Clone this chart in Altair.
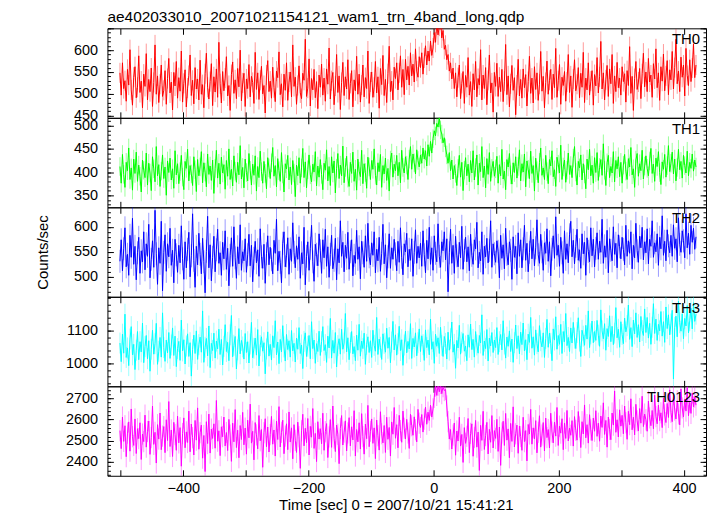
import altair as alt
import pandas as pd

FONT = "Liberation Sans"
TITLE = "ae402033010_20071021154121_wam1_trn_4band_long.qdp"
XTITLE = "Time [sec] 0 = 2007/10/21 15:41:21"
YTITLE = "Counts/sec"

T_START = -501
T_STEP = 2

th0 = [
    548, 497, 571, 512, 530, 483, 556, 520, 601, 509, 474, 538, 562, 491, 515, 587, 503, 529, 468, 545,
    517, 592, 486, 533, 505, 559, 471, 526, 612, 499, 541, 480, 522, 566, 494, 508, 553, 476, 535, 581,
    502, 527, 463, 549, 518, 574, 490, 537, 506, 598, 481, 524, 555, 470, 513, 542, 589, 496, 531, 477,
    560, 511, 534, 486, 577, 499, 521, 468, 546, 593, 515, 488, 528, 569, 473, 539, 504, 557, 492, 618,
    523, 479, 551, 507, 536, 585, 495, 519, 462, 544, 573, 501, 532, 489, 558, 516, 600, 484, 525, 547,
    471, 534, 512, 567, 493, 540, 526, 478, 595, 510, 548, 487, 531, 563, 500, 519, 456, 543, 576, 505,
    529, 490, 561, 514, 482, 552, 537, 596, 498, 523, 470, 545, 508, 571, 485, 527, 550, 493, 612, 517,
    538, 476, 519, 564, 502, 489, 547, 531, 625, 494, 513, 580, 472, 535, 509, 556, 491, 528, 466, 543,
    515, 568, 497, 536, 483, 557, 522, 605, 488, 530, 549, 475, 518, 590, 503, 541, 464, 526, 572, 496,
    539, 511, 578, 487, 524, 553, 470, 532, 507, 586, 499, 545, 481, 520, 566, 493, 537, 512, 598, 478,
    527, 550, 492, 515, 574, 502, 539, 467, 558, 521, 588, 496, 533, 480, 546, 609, 505, 529, 486, 561,
    535, 571, 509, 548, 587, 515, 556, 498, 579, 532, 563, 520, 594, 541, 568, 527, 603, 552, 538, 585,
    560, 594, 545, 582, 610, 566, 598, 575, 621, 588, 605, 640, 618, 662, 635, 655, 670, 628, 645, 602,
    611, 578, 590, 552, 571, 534, 559, 512, 548, 493, 537, 566, 489, 524, 551, 478, 542, 515, 583, 497,
    528, 471, 546, 509, 574, 493, 535, 520, 601, 486, 543, 512, 560, 475, 531, 589, 502, 525, 458, 549,
    517, 570, 494, 538, 505, 556, 482, 529, 613, 498, 541, 470, 523, 565, 508, 537, 452, 520, 579, 495,
    533, 490, 557, 514, 544, 472, 528, 586, 501, 536, 479, 562, 510, 548, 485, 522, 597, 506, 540, 468,
    526, 575, 499, 531, 556, 487, 545, 514, 604, 492, 530, 567, 476, 538, 519, 551, 483, 527, 590, 503,
    541, 469, 534, 578, 507, 522, 560, 491, 547, 515, 595, 480, 536, 509, 571, 497, 529, 553, 474, 544,
    518, 583, 502, 539, 620, 511, 548, 486, 532, 565, 494, 557, 523, 590, 478, 541, 505, 572, 514, 536,
    497, 562, 528, 546, 481, 553, 519, 608, 501, 540, 462, 535, 574, 510, 527, 558, 489, 546, 593, 516,
    550, 505, 581, 527, 543, 492, 569, 534, 603, 514, 548, 485, 562, 529, 591, 507, 541, 576, 498, 555,
    532, 597, 511, 560, 625, 523, 552, 505, 584, 538, 566, 495, 604, 542, 519, 578, 528, 559, 614, 537,
    566,
]

th1 = [
    412, 376, 438, 395, 367, 421, 403, 452, 384, 409, 361, 428, 397, 443, 380, 415, 391, 357, 426, 404,
    388, 441, 372, 419, 398, 360, 433, 407, 379, 455, 392, 416, 369, 402, 437, 386, 411, 350, 424, 399,
    430, 383, 407, 365, 446, 394, 418, 375, 401, 436, 389, 362, 423, 408, 449, 381, 414, 396, 371, 433,
    405, 358, 427, 392, 411, 444, 377, 420, 400, 368, 439, 395, 413, 382, 426, 354, 408, 447, 387, 419,
    374, 432, 398, 416, 363, 425, 391, 450, 384, 406, 370, 435, 402, 378, 421, 394, 457, 385, 410, 366,
    428, 399, 381, 440, 404, 372, 417, 393, 435, 359, 412, 388, 445, 401, 376, 423, 397, 364, 431, 409,
    386, 420, 453, 391, 414, 368, 429, 403, 380, 442, 396, 357, 418, 407, 436, 383, 411, 373, 425, 398,
    347, 415, 392, 431, 376, 409, 451, 388, 422, 366, 405, 437, 394, 379, 417, 400, 444, 370, 413, 389,
    427, 395, 362, 419, 404, 448, 381, 412, 371, 433, 398, 424, 355, 408, 440, 386, 415, 392, 456, 377,
    410, 434, 387, 369, 421, 397, 443, 380, 406, 361, 428, 402, 390, 447, 375, 418, 399, 365, 432, 411,
    384, 425, 406, 450, 393, 372, 420, 401, 438, 367, 414, 396, 430, 382, 408, 359, 426, 441, 389, 417,
    403, 436, 392, 421, 377, 447, 410, 398, 433, 415, 384, 428, 455, 406, 439, 420, 396, 448, 425, 411,
    437, 419, 452, 428, 446, 413, 459, 434, 466, 441, 472, 489, 478, 505, 497, 517, 491, 482, 463, 474,
    452, 437, 419, 442, 403, 426, 385, 414, 397, 371, 408, 436, 389, 421, 360, 404, 431, 392, 417, 379,
    425, 398, 446, 383, 410, 437, 372, 419, 401, 455, 388, 413, 366, 429, 395, 442, 380, 408, 423, 391,
    407, 434, 376, 416, 392, 449, 385, 402, 362, 427, 411, 440, 394, 374, 420, 399, 433, 387, 412, 448,
    381, 418, 400, 439, 368, 424, 406, 386, 445, 397, 414, 359, 430, 403, 377, 421, 452, 393, 409, 384,
    436, 401, 375, 427, 413, 446, 390, 405, 369, 432, 417, 398, 458, 384, 411, 426, 378, 404, 441, 395,
    414, 388, 430, 455, 400, 372, 423, 409, 437, 383, 418, 396, 364, 428, 405, 449, 392, 415, 376, 431,
    399, 442, 382, 410, 427, 393, 461, 404, 371, 420, 436, 388, 412, 398, 444, 379, 425, 407, 433, 390,
    421, 376, 415, 438, 402, 384, 429, 411, 453, 394, 407, 367, 426, 440, 391, 418, 403, 447, 385, 413,
    435, 408, 392, 424, 451, 397, 417, 380, 430, 412, 444, 399, 373, 422, 406, 438, 389, 414, 457, 401,
    419, 443, 396, 428, 381, 410, 449, 405, 423, 387, 436, 414, 398, 445, 392, 421, 408, 439, 402, 426,
    411,
]

th2 = [
    531, 574, 512, 556, 598, 520, 545, 503, 583, 539, 617, 525, 561, 494, 548, 579, 507, 552, 530, 590,
    514, 566, 541, 605, 498, 535, 572, 519, 633, 546, 485, 558, 527, 611, 472, 549, 584, 511, 566, 540,
    597, 523, 553, 488, 575, 544, 509, 563, 528, 602, 536, 495, 570, 518, 555, 589, 500, 542, 626, 533,
    479, 561, 524, 587, 545, 506, 577, 530, 468, 551, 621, 518, 564, 492, 539, 581, 510, 554, 595, 527,
    548, 503, 569, 536, 592, 515, 557, 482, 543, 578, 521, 600, 538, 497, 560, 526, 604, 513, 550, 532,
    576, 509, 544, 585, 522, 563, 490, 537, 571, 528, 554, 501, 596, 540, 517, 565, 487, 546, 582, 524,
    559, 534, 506, 573, 547, 615, 512, 551, 529, 488, 567, 590, 520, 542, 578, 505, 556, 531, 608, 549,
    518, 562, 535, 580, 497, 548, 526, 599, 484, 541, 570, 513, 557, 603, 530, 491, 565, 545, 522, 586,
    552, 507, 574, 538, 595, 521, 560, 499, 545, 583, 516, 533, 577, 494, 556, 528, 612, 541, 569, 510,
    563, 537, 589, 515, 550, 574, 502, 543, 527, 593, 535, 560, 496, 571, 548, 519, 582, 531, 607, 540,
    524, 568, 543, 590, 508, 555, 532, 579, 511, 547, 605, 526, 564, 498, 540, 586, 517, 558, 535, 575,
    546, 512, 571, 529, 598, 539, 504, 566, 550, 587, 520, 555, 533, 576, 501, 549, 594, 527, 561, 538,
    567, 521, 592, 544, 508, 573, 536, 599, 525, 558, 513, 582, 547, 530, 606, 541, 519, 570, 552, 590,
    534, 576, 470, 548, 595, 527, 563, 507, 581, 542, 520, 569, 538, 601, 515, 553, 579, 530, 560, 512,
    585, 543, 525, 574, 556, 609, 518, 549, 532, 590, 505, 561, 540, 577, 528, 553, 612, 519, 566, 546,
    529, 572, 551, 498, 583, 537, 564, 516, 597, 545, 524, 570, 553, 495, 580, 539, 561, 506, 588, 541,
    574, 518, 556, 603, 533, 567, 510, 549, 591, 536, 575, 522, 558, 614, 544, 527, 585, 550, 513, 568,
    547, 596, 531, 570, 502, 555, 582, 537, 620, 543, 563, 521, 579, 548, 507, 592, 535, 566, 528, 584,
    611, 540, 573, 526, 561, 595, 533, 554, 517, 586, 546, 569, 503, 578, 551, 530, 598, 542, 575, 520,
    557, 588, 535, 571, 549, 615, 527, 562, 539, 593, 508, 576, 553, 532, 600, 545, 567, 518, 584, 560,
    536, 579, 555, 524, 603, 541, 572, 547, 590, 516, 563, 538, 607, 552, 529, 581, 558, 599, 534, 570,
    548, 596, 526, 575, 561, 612, 539, 568, 550, 586, 523, 579, 556, 622, 543, 571, 532, 594, 562, 548,
    583, 541, 604, 557, 576, 530, 618, 565, 549, 592, 572, 538, 626, 558, 587, 545, 603, 569, 597, 555,
    580,
]

th3 = [
    1062, 1005, 1089, 1031, 1150, 1018, 1047, 993, 1074, 1112, 1026, 1058, 981, 1040, 1097, 1011, 1066, 1035, 1123, 1002,
    1051, 1085, 1014, 1069, 976, 1043, 1101, 1028, 1060, 1122, 997, 1037, 1079, 1019, 1154, 1048, 1006, 1071, 1032, 1094,
    1015, 1056, 1108, 1024, 1083, 990, 1045, 1067, 1009, 1132, 1038, 1072, 998, 1053, 1090, 1021, 1063, 961, 1042, 1086,
    1030, 1099, 1012, 1057, 1080, 1034, 1160, 1003, 1049, 1076, 1023, 1114, 987, 1061, 1039, 1092, 1016, 1068, 1044, 1104,
    1027, 1073, 995, 1052, 1118, 1036, 1064, 1008, 1087, 1146, 1020, 1055, 1082, 983, 1041, 1106, 1029, 1070, 1050, 1013,
    1091, 1033, 1066, 1001, 1059, 1125, 1017, 1046, 1077, 1025, 1103, 992, 1054, 1081, 1037, 1063, 968, 1044, 1096, 1022,
    1058, 1010, 1084, 1048, 1130, 1026, 1065, 999, 1073, 1035, 1115, 1050, 1007, 1088, 1042, 1069, 1019, 1100, 1038, 1061,
    1004, 1077, 1043, 1109, 1030, 1056, 984, 1067, 1093, 1021, 1052, 1085, 1014, 1127, 1045, 1071, 1000, 1060, 1036, 1098,
    1024, 1066, 1112, 1039, 1057, 1003, 1083, 1047, 1137, 1016, 1070, 1031, 1094, 989, 1054, 1075, 1028, 1104, 1043, 1062,
    1152, 1035, 1078, 1011, 1063, 1097, 1029, 1051, 1008, 1086, 1040, 1119, 1022, 1068, 1045, 1092, 997, 1058, 1081, 1033,
    1069, 1018, 1101, 1055, 1037, 1140, 1027, 1074, 1049, 1012, 1090, 1061, 1034, 1107, 1046, 1079, 1002, 1065, 1128, 1041,
    1087, 1025, 1060, 1113, 1039, 1072, 994, 1056, 1098, 1032, 1067, 1044, 1121, 1015, 1076, 1050, 1093, 1023, 1063, 1105,
    1036, 1084, 1057, 1009, 1102, 1048, 1071, 1026, 1135, 1043, 1066, 1000, 1089, 1052, 1078, 1030, 1110, 1055, 1021, 1082,
    1061, 1013, 1095, 1040, 1075, 1126, 1034, 1058, 985, 1070, 1047, 1116, 1028, 1064, 1091, 1037, 1053, 1008, 1087, 1049,
    1120, 1042, 1073, 1019, 1097, 1056, 1031, 1085, 1062, 1148, 1024, 1068, 1045, 1103, 1007, 1077, 1053, 1094, 1033, 1071,
    1048, 1109, 1027, 1066, 1088, 1041, 1130, 1059, 1016, 1080, 1052, 1099, 1036, 1074, 1003, 1063, 1117, 1045, 1084, 1029,
    1095, 1057, 1123, 1038, 1072, 1011, 1089, 1064, 1140, 1046, 1081, 1025, 1102, 1060, 1035, 1115, 1069, 1050, 1093, 1018,
    1076, 1134, 1049, 1092, 1061, 1008, 1105, 1071, 1142, 1043, 1085, 1058, 1119, 1030, 1097, 1066, 1152, 1054, 1079, 1036,
    1108, 1062, 1125, 1077, 1045, 1094, 1139, 1068, 1021, 1101, 1083, 1055, 1116, 1074, 1160, 1048, 1090, 1129, 1063, 1097,
    1070, 1131, 1086, 1052, 1163, 1099, 1075, 1121, 1040, 1106, 1082, 1145, 1066, 1113, 1057, 1092, 1170, 1078, 1104, 1049,
    1127, 1088, 1060, 1138, 1096, 1115, 1178, 1073, 1109, 1051, 1132, 1090, 1154, 1079, 1118, 1065, 1143, 1100, 1085, 1166,
    1094, 1140, 1077, 1122, 1058, 1110, 1182, 1091, 1135, 1070, 1119, 1099, 1158, 1083, 1127, 1064, 1172, 1106, 1148, 1087,
    1120, 1162, 952, 1109, 1144, 1081, 1190, 1124, 1098, 1151, 1075, 1137, 1114, 1176, 1093, 1130, 1168, 1105, 1185, 1128,
    1150,
]

th0123 = [
    2548, 2463, 2612, 2497, 2571, 2425, 2536, 2589, 2451, 2650, 2519, 2478, 2603, 2440, 2557, 2510, 2585, 2412, 2532, 2496,
    2621, 2470, 2544, 2593, 2436, 2515, 2664, 2483, 2540, 2395, 2576, 2508, 2631, 2458, 2522, 2567, 2444, 2599, 2501, 2685,
    2473, 2551, 2426, 2587, 2529, 2455, 2616, 2490, 2562, 2380, 2534, 2608, 2467, 2542, 2492, 2640, 2448, 2579, 2515, 2433,
    2596, 2503, 2655, 2460, 2538, 2574, 2418, 2525, 2355, 2590, 2487, 2626, 2442, 2555, 2511, 2580, 2465, 2690, 2498, 2547,
    2430, 2566, 2519, 2612, 2476, 2539, 2454, 2601, 2527, 2403, 2583, 2495, 2647, 2468, 2550, 2420, 2572, 2506, 2634, 2481,
    2560, 2437, 2597, 2514, 2673, 2489, 2545, 2410, 2586, 2528, 2462, 2619, 2500, 2553, 2375, 2538, 2604, 2472, 2565, 2447,
    2529, 2615, 2484, 2551, 2428, 2593, 2506, 2661, 2471, 2540, 2597, 2439, 2522, 2580, 2458, 2636, 2494, 2561, 2415, 2576,
    2502, 2445, 2588, 2519, 2370, 2547, 2625, 2476, 2559, 2491, 2605, 2433, 2568, 2517, 2652, 2464, 2535, 2402, 2590, 2508,
    2557, 2486, 2630, 2455, 2543, 2581, 2421, 2518, 2600, 2469, 2664, 2512, 2449, 2574, 2531, 2392, 2558, 2619, 2480, 2541,
    2594, 2452, 2537, 2609, 2476, 2566, 2504, 2642, 2428, 2553, 2495, 2585, 2461, 2628, 2520, 2437, 2579, 2510, 2667, 2472,
    2545, 2603, 2488, 2561, 2416, 2598, 2524, 2456, 2637, 2533, 2490, 2572, 2445, 2611, 2507, 2563, 2428, 2589, 2531, 2657,
    2512, 2576, 2467, 2620, 2548, 2493, 2640, 2559, 2509, 2601, 2537, 2464, 2625, 2571, 2526, 2613, 2552, 2495, 2648, 2583,
    2563, 2624, 2541, 2602, 2659, 2578, 2635, 2596, 2668, 2612, 2650, 2705, 2758, 2714, 2762, 2731, 2770, 2722, 2755, 2737,
    2742, 2664, 2590, 2508, 2553, 2461, 2527, 2584, 2432, 2546, 2499, 2611, 2475, 2530, 2398, 2562, 2488, 2521, 2605, 2444,
    2535, 2580, 2427, 2516, 2596, 2470, 2541, 2360, 2573, 2502, 2639, 2459, 2525, 2587, 2438, 2554, 2493, 2619, 2466, 2548,
    2511, 2601, 2450, 2565, 2384, 2537, 2592, 2478, 2629, 2503, 2556, 2420, 2582, 2497, 2660, 2471, 2533, 2574, 2441, 2569,
    2520, 2455, 2611, 2496, 2548, 2405, 2577, 2532, 2648, 2484, 2561, 2509, 2595, 2443, 2540, 2618, 2470, 2527, 2586, 2452,
    2607, 2515, 2553, 2466, 2630, 2541, 2490, 2588, 2522, 2657, 2478, 2569, 2536, 2604, 2458, 2584, 2511, 2643, 2499, 2560,
    2526, 2595, 2475, 2614, 2549, 2503, 2638, 2565, 2468, 2590, 2532, 2669, 2514, 2576, 2489, 2623, 2551, 2501, 2607, 2545,
    2642, 2521, 2583, 2498, 2617, 2563, 2679, 2530, 2596, 2470, 2612, 2554, 2505, 2631, 2574, 2735, 2540, 2599, 2518, 2646,
    2569, 2620, 2533, 2664, 2585, 2507, 2639, 2576, 2698, 2552, 2611, 2528, 2672, 2594, 2546, 2652, 2583, 2710, 2567, 2626,
    2599, 2545, 2687, 2608, 2571, 2643, 2557, 2715, 2614, 2580, 2668, 2595, 2632, 2562, 2701, 2622, 2586, 2676, 2610, 2740,
    2634, 2590, 2718, 2645, 2603, 2689, 2627, 2575, 2744, 2655, 2612, 2697, 2640, 2752, 2618, 2681, 2629, 2725, 2660, 2706,
    2668,
]

# error-bar half heights
errors = {"TH0": 23, "TH1": 20, "TH2": 23, "TH3": 32, "TH0123": 50}

x_domain = [-521, 435]
x_label_vals = [-400, -200, 0, 200, 400]
x_tick_vals = [-500, -400, -300, -200, -100, 0, 100, 200, 300, 400]

panels = [
    dict(name="TH0", values=th0, color="#ff0000", domain=[445, 650],
         labels=[450, 500, 550, 600], major=[450, 500, 550, 600, 650],
         minor=list(range(450, 651, 10))),
    dict(name="TH1", values=th1, color="#00ff00", domain=[324, 517],
         labels=[350, 400, 450, 500], major=[350, 400, 450, 500],
         minor=list(range(330, 511, 10))),
    dict(name="TH2", values=th2, color="#0000ff", domain=[460, 639],
         labels=[500, 550, 600], major=[500, 550, 600],
         minor=list(range(460, 631, 10))),
    dict(name="TH3", values=th3, color="#00ffff", domain=[930, 1203],
         labels=[1000, 1100], major=[1000, 1100],
         minor=list(range(940, 1201, 20))),
    dict(name="TH0123", values=th0123, color="#ff00ff", domain=[2335, 2757],
         labels=[2400, 2500, 2600, 2700], major=[2400, 2500, 2600, 2700],
         minor=list(range(2340, 2741, 20))),
]

W, H = 602, 90


def make_panel(p, first, last, middle):
    vals = p["values"]
    df = pd.DataFrame({"t": [T_START + T_STEP * i for i in range(len(vals))], "c": vals})
    df["e"] = errors[p["name"]]
    base = alt.Chart(df)
    xs = alt.Scale(domain=x_domain, nice=False, zero=False)
    ys = alt.Scale(domain=p["domain"], nice=False, zero=False)

    if last:
        x_main_axis = alt.Axis(orient="bottom", values=x_label_vals, ticks=False, domain=False,
                               grid=False, labelPadding=6, title=XTITLE, titlePadding=2,
                               format="d", titleX=290)
    else:
        x_main_axis = None
    y_kw = dict(orient="left", values=p["labels"], ticks=False, domain=False, grid=False,
                labelPadding=10, format="d")
    if middle:
        y_main_axis = alt.Axis(title=YTITLE, titlePadding=23, **y_kw)
    else:
        y_main_axis = alt.Axis(title=None, **y_kw)

    errbars = base.transform_calculate(
        lo="datum.c - datum.e", hi="datum.c + datum.e"
    ).mark_rule(color=p["color"], opacity=0.4, strokeWidth=1, clip=True).encode(
        x=alt.X("t:Q", scale=xs, axis=x_main_axis),
        y=alt.Y("lo:Q", scale=ys, axis=y_main_axis),
        y2="hi:Q",
    )
    line = base.mark_line(color=p["color"], strokeWidth=1, clip=True).encode(
        x=alt.X("t:Q", scale=xs, axis=None),
        y=alt.Y("c:Q", scale=ys, axis=None),
    )

    def tick_axis(orient, values, size):
        return alt.Axis(orient=orient, values=values, labels=False, domain=False, grid=False,
                        ticks=True, tickSize=size, offset=-size, title=None,
                        tickColor="black", tickWidth=1)

    l_top_right = base.mark_point(opacity=0, clip=True).encode(
        x=alt.X("t:Q", scale=xs, axis=tick_axis("top", x_tick_vals, 6)),
        y=alt.Y("c:Q", scale=ys, axis=tick_axis("right", p["major"], 6)),
    )
    l_bottom_left = base.mark_point(opacity=0, clip=True).encode(
        x=alt.X("t:Q", scale=xs, axis=tick_axis("bottom", x_tick_vals, 6)),
        y=alt.Y("c:Q", scale=ys, axis=tick_axis("left", p["major"], 6)),
    )
    l_minor_left = base.mark_point(opacity=0, clip=True).encode(
        x=alt.X("t:Q", scale=xs, axis=None),
        y=alt.Y("c:Q", scale=ys, axis=tick_axis("left", p["minor"], 3)),
    )
    l_minor_right = base.mark_point(opacity=0, clip=True).encode(
        x=alt.X("t:Q", scale=xs, axis=None),
        y=alt.Y("c:Q", scale=ys, axis=tick_axis("right", p["minor"], 3)),
    )
    lab = alt.Chart(pd.DataFrame({"n": [p["name"]]})).mark_text(
        align="right", baseline="alphabetic", font=FONT, fontSize=15, color="black"
    ).encode(x=alt.value(W - 6), y=alt.value(16), text="n:N")

    layers = [errbars, line, l_top_right, l_bottom_left, l_minor_left, l_minor_right, lab]
    if first:
        ttl = alt.Chart(pd.DataFrame({"s": [TITLE]})).mark_text(
            align="left", baseline="alphabetic", font=FONT, fontSize=15.5, color="black"
        ).encode(x=alt.value(0), y=alt.value(-6), text="s:N")
        layers.append(ttl)

    ch = alt.layer(*layers).resolve_axis(x="independent", y="independent")
    return ch.properties(width=W, height=H)


charts = [make_panel(p, i == 0, i == len(panels) - 1, i == 2) for i, p in enumerate(panels)]

chart = alt.vconcat(*charts, spacing=0, bounds="flush").properties(
    padding={"left": 27, "top": 0, "right": 2, "bottom": 0},
    background="white",
).configure_view(
    stroke="black", strokeWidth=1
).configure_axis(
    labelFont=FONT, labelFontSize=14.5, labelColor="black",
    titleFont=FONT, titleFontSize=15, titleColor="black", titleFontWeight="normal",
)

chart.save("out.html", embed_options={"renderer": "svg", "actions": False})
